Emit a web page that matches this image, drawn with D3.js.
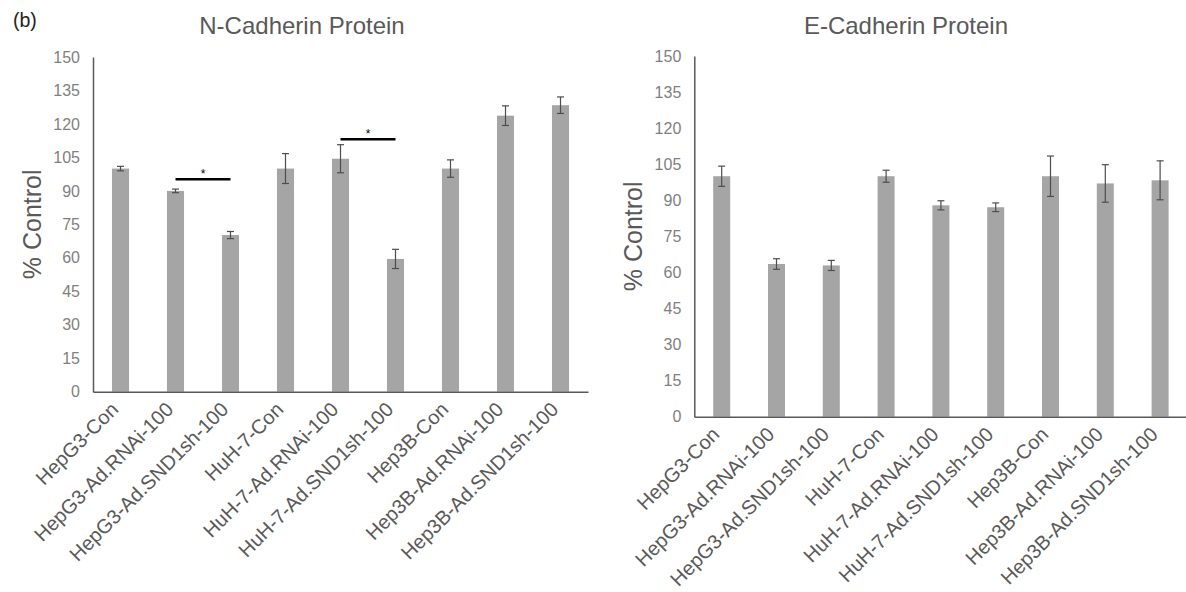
<!DOCTYPE html>
<html>
<head>
<meta charset="utf-8">
<script src="https://cdn.jsdelivr.net/npm/d3@7"></script>
<style>
  html, body { margin: 0; padding: 0; background: #fff; }
  svg { display: block; font-family: "Liberation Sans", Arial, sans-serif; }
</style>
</head>
<body>
<svg id="chart" width="1186" height="592"></svg>
<script>
const categories = [
  "HepG3-Con", "HepG3-Ad.RNAi-100", "HepG3-Ad.SND1sh-100",
  "HuH-7-Con", "HuH-7-Ad.RNAi-100", "HuH-7-Ad.SND1sh-100",
  "Hep3B-Con", "Hep3B-Ad.RNAi-100", "Hep3B-Ad.SND1sh-100"
];
const nCadValues = [100, 90, 70.2, 100, 104.4, 59.5, 100, 123.7, 128.4];
const nCadErrors = [1.0, 0.8, 1.6, 6.7, 6.3, 4.3, 3.9, 4.4, 3.7];
const eCadValues = [100, 63.5, 62.9, 100, 87.9, 87.1, 100, 97.0, 98.3];
const eCadErrors = [4.2, 2.2, 2.1, 2.5, 1.9, 1.8, 8.4, 7.8, 8.1];
const yTicks = [0, 15, 30, 45, 60, 75, 90, 105, 120, 135, 150];
const nCadSignificance = [
  { from: "HepG3-Ad.RNAi-100", to: "HepG3-Ad.SND1sh-100", level: 95.2, label: "*" },
  { from: "HuH-7-Ad.RNAi-100", to: "HuH-7-Ad.SND1sh-100", level: 113.1, label: "*" }
];
const eCadSignificance = [];
const titles = ["N-Cadherin Protein", "E-Cadherin Protein"];
const yAxisTitle = "% Control";
const panelLabel = "(b)";

const svg = d3.select("#chart");

svg.append("text")
  .attr("x", 13).attr("y", 27)
  .attr("font-size", 19.5).attr("fill", "#222")
  .text(panelLabel);

function drawPanel(cfg) {
  const g = svg.append("g");
  const x = d3.scaleBand()
    .domain(categories)
    .range([cfg.left, cfg.left + cfg.width])
    .paddingInner(0.69)
    .paddingOuter(0.345);
  const y = d3.scaleLinear().domain([0, 150]).range([cfg.bottom, cfg.top]);
  const bw = x.bandwidth();

  g.append("text")
    .attr("x", cfg.titleX).attr("y", 34)
    .attr("text-anchor", "middle")
    .attr("font-size", 24).attr("fill", "#595959")
    .text(cfg.title);

  g.append("text")
    .attr("transform", `translate(${cfg.left - 52},${(cfg.top + cfg.bottom) / 2}) rotate(-90)`)
    .attr("text-anchor", "middle")
    .attr("font-size", 25).attr("fill", "#595959")
    .text(yAxisTitle);

  const yAxis = d3.axisLeft(y).tickValues(yTicks).tickSize(0).tickPadding(13);
  const ya = g.append("g").attr("transform", `translate(${cfg.left},0)`).call(yAxis);
  ya.select(".domain").attr("stroke", "#595959").attr("stroke-width", 1.5);
  ya.selectAll("text").attr("font-size", 16).attr("fill", "#7f7f7f")
    .attr("font-family", "Liberation Sans, Arial, sans-serif");

  g.selectAll("rect.bar").data(cfg.values).enter().append("rect")
    .attr("class", "bar")
    .attr("x", (d, i) => x(categories[i]))
    .attr("y", d => y(d))
    .attr("width", bw)
    .attr("height", d => y(0) - y(d))
    .attr("fill", "#a5a5a5");

  const eb = g.selectAll("g.err").data(cfg.values).enter().append("g").attr("class", "err");
  const cap = 3.5;
  eb.append("line")
    .attr("x1", (d, i) => x(categories[i]) + bw / 2)
    .attr("x2", (d, i) => x(categories[i]) + bw / 2)
    .attr("y1", (d, i) => y(d + cfg.errors[i]))
    .attr("y2", (d, i) => y(d - cfg.errors[i]));
  eb.append("line")
    .attr("x1", (d, i) => x(categories[i]) + bw / 2 - cap)
    .attr("x2", (d, i) => x(categories[i]) + bw / 2 + cap)
    .attr("y1", (d, i) => y(d + cfg.errors[i]))
    .attr("y2", (d, i) => y(d + cfg.errors[i]));
  eb.append("line")
    .attr("x1", (d, i) => x(categories[i]) + bw / 2 - cap)
    .attr("x2", (d, i) => x(categories[i]) + bw / 2 + cap)
    .attr("y1", (d, i) => y(d - cfg.errors[i]))
    .attr("y2", (d, i) => y(d - cfg.errors[i]));
  eb.selectAll("line").attr("stroke", "#4d4d4d").attr("stroke-width", 1.2);

  const xAxis = d3.axisBottom(x).tickSize(0).tickFormat("");
  const xa = g.append("g").attr("transform", `translate(0,${cfg.bottom})`).call(xAxis);
  xa.select(".domain").attr("stroke", "#595959").attr("stroke-width", 1.5);

  g.selectAll("text.xl").data(categories).enter().append("text")
    .attr("class", "xl")
    .attr("transform", d => `translate(${x(d) + bw / 2 - 1},${cfg.bottom + 19}) rotate(-45)`)
    .attr("text-anchor", "end")
    .attr("font-size", 20).attr("fill", "#595959")
    .text(d => d);

  cfg.sig.forEach(s => {
    const x1 = x(s.from) + bw / 2, x2 = x(s.to) + bw / 2;
    g.append("line")
      .attr("x1", x1).attr("x2", x2)
      .attr("y1", y(s.level)).attr("y2", y(s.level))
      .attr("stroke", "#000").attr("stroke-width", 2.5);
    g.append("text")
      .attr("x", (x1 + x2) / 2).attr("y", y(s.level) - 1)
      .attr("text-anchor", "middle")
      .attr("font-size", 12).attr("fill", "#000")
      .text(s.label);
  });
}

drawPanel({ left: 93, width: 495, top: 57, bottom: 391.7, titleX: 302,
  title: titles[0], values: nCadValues, errors: nCadErrors, sig: nCadSignificance });
drawPanel({ left: 694.3, width: 493.2, top: 56, bottom: 416.7, titleX: 906,
  title: titles[1], values: eCadValues, errors: eCadErrors, sig: eCadSignificance });
</script>
</body>
</html>
